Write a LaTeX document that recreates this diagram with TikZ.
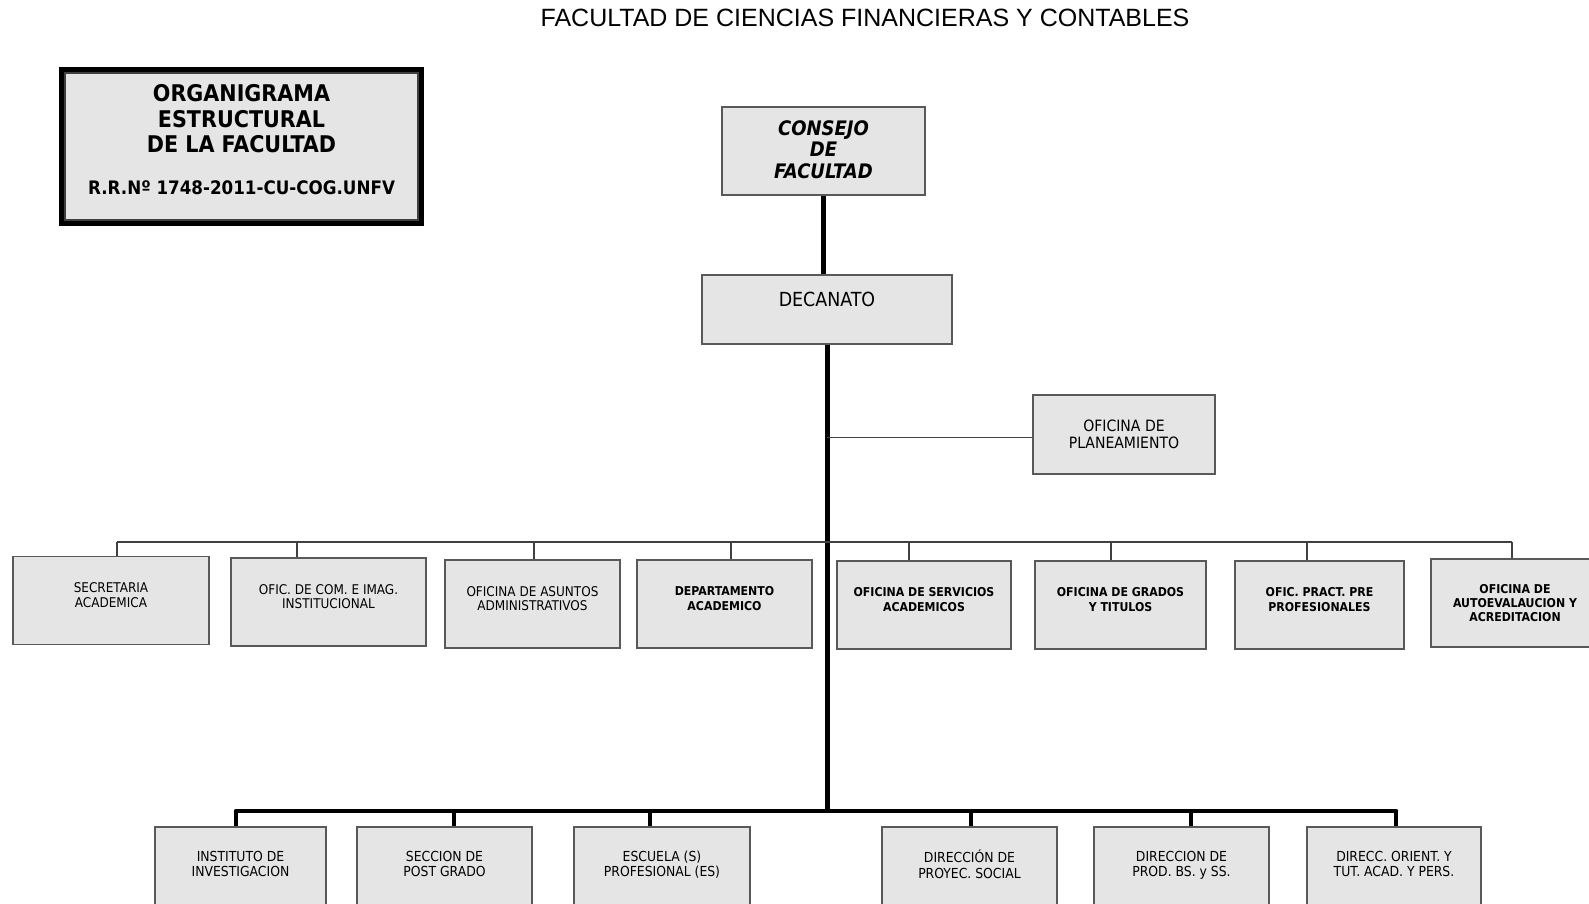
\documentclass[tikz,border=0pt]{standalone}
\usepackage{fontspec}
\setmainfont{Liberation Sans}
\newfontfamily\boxfont{DejaVu Sans Condensed}

\tikzset{
  ofi/.style={draw=black!65, line width=0.8pt, fill=black!10, align=center,
    inner sep=2pt, minimum height=44pt, text depth=5.5pt,
    font=\boxfont\fontsize{6.7}{7.2}\selectfont},
  ofib/.style={ofi, font=\boxfont\bfseries\fontsize{6.1}{7.2}\selectfont},
  esc/.style={ofi, text depth=7pt, font=\boxfont\fontsize{6.9}{7.6}\selectfont},
  thinline/.style={draw=black!75, line width=0.6pt},
  thickline/.style={draw=black, line width=2.5pt},
}

\begin{document}
\begin{tikzpicture}[x=0.5pt, y=-0.5pt]

    \useasboundingbox (0,0) rectangle (1589,904);

    % titulo y recuadro
    \node[font=\fontsize{12.5}{15}\selectfont] (titulo) at (865,18)
      {FACULTAD DE CIENCIAS FINANCIERAS Y CONTABLES};
    \node[draw, line width=2.5pt, fill=black!10, minimum width=180pt, minimum height=77pt,
      align=center, text depth=7pt, font=\boxfont\bfseries\fontsize{11.5}{12.75}\selectfont] (org) at (241.5,146.5)
      {ORGANIGRAMA\\ESTRUCTURAL\\DE LA FACULTAD\\[8pt]{\fontsize{9.3}{11}\selectfont R.R.Nº 1748-2011-CU-COG.UNFV}};
    \draw[thinline] ([shift={(3pt,-3pt)}]org.north west) rectangle ([shift={(-3pt,3pt)}]org.south east);

    % organos de direccion
    \node[ofi, minimum width=101.5pt, text depth=1.5pt,
      font=\boxfont\bfseries\itshape\fontsize{10}{10.75}\selectfont] (conf) at (823.5,151)
      {CONSEJO\\DE\\FACULTAD};
    \node[ofi, minimum width=125pt, minimum height=34.5pt, text depth=10pt,
      font=\boxfont\fontsize{9.7}{10}\selectfont] (dec) at (827,309.5) {DECANATO};
    \node[ofi, minimum width=91pt, minimum height=39.5pt, text depth=0pt,
      font=\boxfont\fontsize{7.8}{8.6}\selectfont] (plan) at (1124,434.5)
      {OFICINA DE\\PLANEAMIENTO};

    % oficinas
    \node[ofi, minimum width=98pt] (sec) at (111,600.5) {SECRETARIA\\ACADEMICA};
    \node[ofi, minimum width=97.5pt] (ofcom) at (328.5,602) {OFIC. DE COM. E IMAG.\\INSTITUCIONAL};
    \node[ofi, minimum width=87.5pt] (asun) at (532.5,604) {OFICINA DE ASUNTOS\\ADMINISTRATIVOS};
    \node[ofib, minimum width=87.5pt] (dep) at (724.5,604) {DEPARTAMENTO\\ACADEMICO};
    \node[ofib, minimum width=87pt] (serv) at (924,605) {OFICINA DE SERVICIOS\\ACADEMICOS};
    \node[ofib, minimum width=85.5pt] (grad) at (1120.5,605) {OFICINA DE GRADOS\\Y TITULOS};
    \node[ofib, minimum width=84.5pt] (prac) at (1319.5,605) {OFIC. PRACT. PRE\\PROFESIONALES};
    \node[ofib, minimum width=84pt, text depth=0pt] (auto) at (1515,603) {OFICINA DE\\AUTOEVALAUCION Y\\ACREDITACION};

    % organos de linea
    \node[esc, minimum width=85.5pt] (inst) at (240.5,871) {INSTITUTO DE\\INVESTIGACION};
    \node[esc, minimum width=87.5pt] (post) at (444.5,871) {SECCION DE\\POST GRADO};
    \node[esc, minimum width=88pt] (escu) at (662,871) {ESCUELA (S)\\PROFESIONAL (ES)};
    \node[esc, minimum width=87.5pt] (proy) at (969.5,871) {DIRECCIÓN DE\\PROYEC. SOCIAL};
    \node[esc, minimum width=87.5pt] (prod) at (1181.5,871) {DIRECCION DE\\PROD. BS. y SS.};
    \node[esc, minimum width=87pt] (tut) at (1394,871) {DIRECC. ORIENT. Y\\TUT. ACAD. Y PERS.};

    % lineas
    \coordinate (pie) at (826,811);
    \draw[thickline] (conf.south) -- (conf.south |- dec.north);
    \draw[thickline] (dec.south) -- (dec.south |- pie);
    \draw[thinline] ([yshift=-1.5pt]plan.west) -- ([yshift=-1.5pt]plan.west -| dec.south);

    \foreach \n/\x in {sec/117, ofcom/297, asun/534, dep/731, serv/909, grad/1111, prac/1307, auto/1512}
    {   \coordinate (m\n) at (\x,542);
      \draw[thinline] (m\n) -- (m\n |- \n.north);}
    \draw[thinline] (msec) -- (mauto);

    \foreach \n/\x in {inst/236, post/454, escu/650, proy/971, prod/1191, tut/1396}
    {   \coordinate (b\n) at (\x,811);
      \draw[thickline, line width=2.2pt] (b\n) -- (b\n |- \n.north);}
    \draw[thickline, line width=2.2pt, line cap=round] (binst) -- (btut);

\end{tikzpicture}
\end{document}
